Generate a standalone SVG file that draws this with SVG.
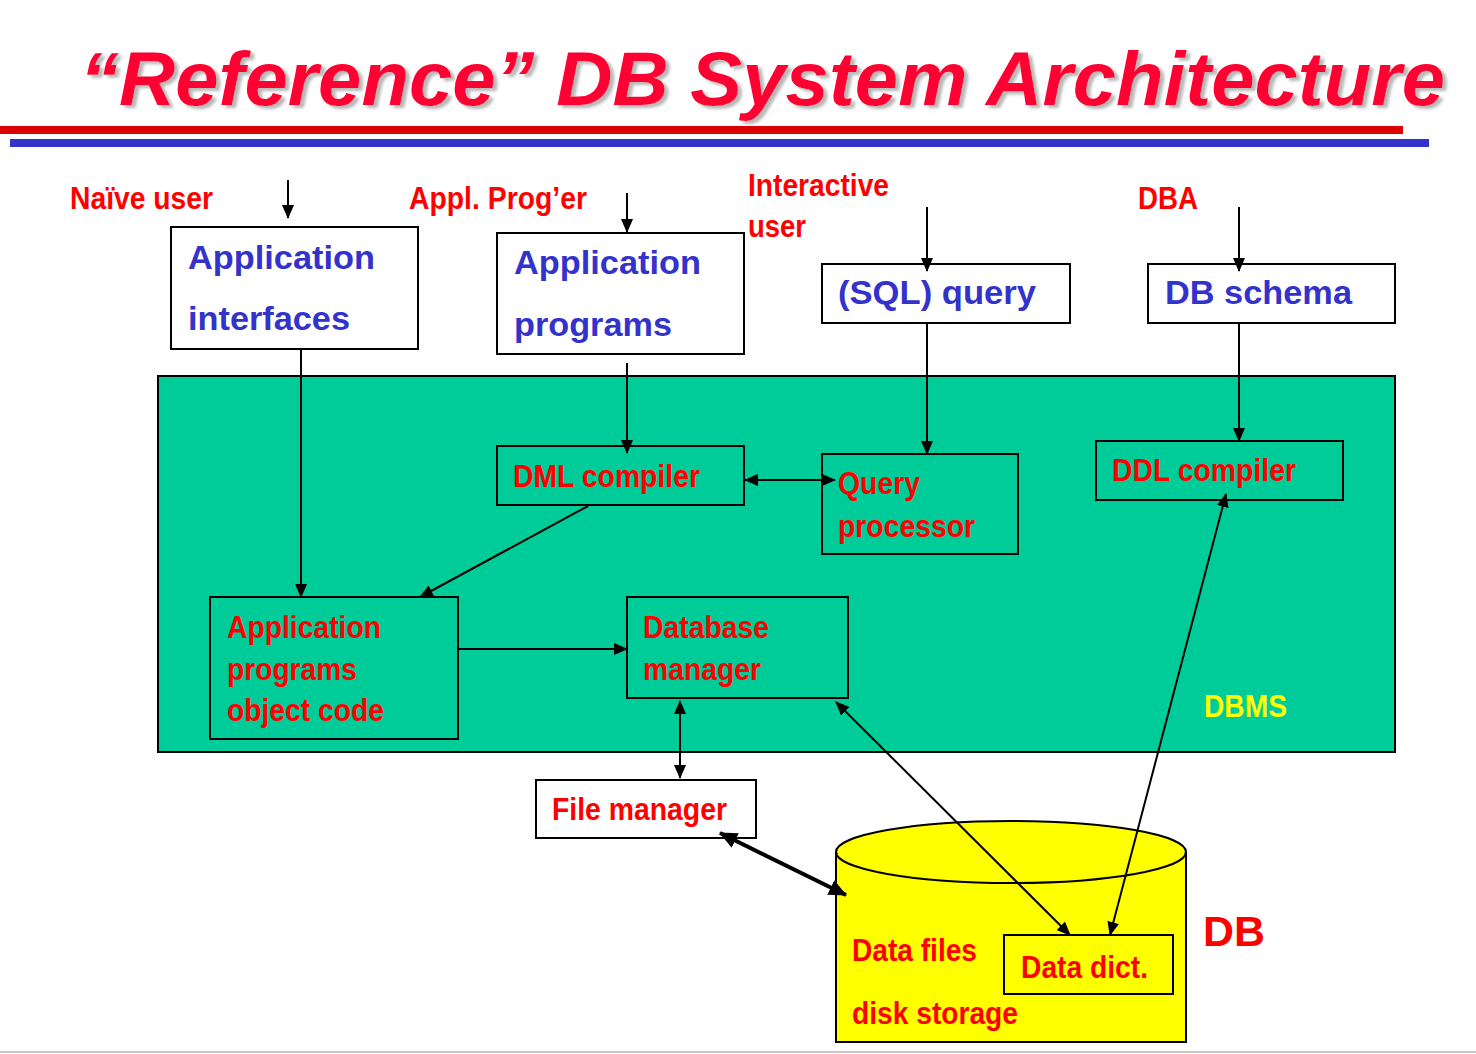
<svg xmlns="http://www.w3.org/2000/svg" width="1476" height="1054" viewBox="0 0 1476 1054">
<style>
.title{font-family:"Liberation Sans",Arial,sans-serif;font-weight:bold;font-style:italic;font-size:76px}
.nar{font-family:"Liberation Sans Narrow","Liberation Sans",Arial,sans-serif;font-weight:bold;fill:#FF0000;font-size:31px}
.blue{font-family:"Liberation Sans",Arial,sans-serif;font-weight:bold;fill:#3333CC;font-size:34px}
.wbox{fill:#FFFFFF;stroke:#000;stroke-width:2}
.gbox{fill:#00CC99;stroke:#000;stroke-width:2}
.ybox{fill:#FFFF00;stroke:#000;stroke-width:2}
.ln{stroke:#000;stroke-width:2;fill:none}
</style>
<defs>
<filter id="shadow" x="-5%" y="-20%" width="110%" height="150%">
<feDropShadow dx="4" dy="3" stdDeviation="1.5" flood-color="#999999" flood-opacity="0.7"/>
</filter>
<marker id="ah" markerUnits="userSpaceOnUse" markerWidth="14" markerHeight="12" refX="13" refY="6" orient="auto-start-reverse" viewBox="0 0 14 12">
<path d="M0,0 L14,6 L0,12 z" fill="#000"/>
</marker>
<marker id="ahb" markerUnits="userSpaceOnUse" markerWidth="18" markerHeight="16" refX="17" refY="8" orient="auto-start-reverse" viewBox="0 0 18 16">
<path d="M0,0 L18,8 L0,16 z" fill="#000"/>
</marker>
</defs>
<rect x="0" y="0" width="1476" height="1054" fill="#FFFFFF"/>
<g id="title">
<text class="title" x="80" y="105" fill="#FF0033" filter="url(#shadow)" textLength="1365" lengthAdjust="spacingAndGlyphs">“Reference” DB System Architecture</text>
<rect x="0" y="126" width="1403" height="8" fill="#DD0000"/>
<rect x="10" y="139" width="1419" height="8" fill="#3333CC"/>
</g>
<g id="dbms">
<rect class="gbox" x="158" y="376" width="1237" height="376"/>
<text class="nar" x="1204" y="717" style="fill:#FFFF00" textLength="83" lengthAdjust="spacingAndGlyphs">DBMS</text>
</g>
<g id="labels">
<text class="nar" x="70" y="209" textLength="143" lengthAdjust="spacingAndGlyphs">Naïve user</text>
<text class="nar" x="409" y="209" textLength="178" lengthAdjust="spacingAndGlyphs">Appl. Prog’er</text>
<text class="nar" x="748" y="196" textLength="141" lengthAdjust="spacingAndGlyphs">Interactive</text>
<text class="nar" x="748" y="237" textLength="58" lengthAdjust="spacingAndGlyphs">user</text>
<text class="nar" x="1138" y="209" textLength="60" lengthAdjust="spacingAndGlyphs">DBA</text>
</g>
<g id="app-interfaces">
<rect class="wbox" x="171" y="227" width="247" height="122"/>
<text class="blue" x="188" y="269" textLength="187" lengthAdjust="spacingAndGlyphs">Application</text>
<text class="blue" x="188" y="330" textLength="162" lengthAdjust="spacingAndGlyphs">interfaces</text>
</g>
<g id="app-programs">
<rect class="wbox" x="497" y="233" width="247" height="121"/>
<text class="blue" x="514" y="274" textLength="187" lengthAdjust="spacingAndGlyphs">Application</text>
<text class="blue" x="514" y="336" textLength="158" lengthAdjust="spacingAndGlyphs">programs</text>
</g>
<g id="sql-query">
<rect class="wbox" x="822" y="264" width="248" height="59"/>
<text class="blue" x="838" y="304" textLength="198" lengthAdjust="spacingAndGlyphs">(SQL) query</text>
</g>
<g id="db-schema">
<rect class="wbox" x="1148" y="264" width="247" height="59"/>
<text class="blue" x="1165" y="304" textLength="187" lengthAdjust="spacingAndGlyphs">DB schema</text>
</g>
<g id="dml-compiler">
<rect class="gbox" x="497" y="446" width="247" height="59"/>
<text class="nar" x="513" y="487" style="font-size:32px" textLength="187" lengthAdjust="spacingAndGlyphs">DML compiler</text>
</g>
<g id="query-processor">
<rect class="gbox" x="822" y="454" width="196" height="100"/>
<text class="nar" x="838" y="494" style="font-size:32px" textLength="82" lengthAdjust="spacingAndGlyphs">Query</text>
<text class="nar" x="838" y="537" style="font-size:32px" textLength="137" lengthAdjust="spacingAndGlyphs">processor</text>
</g>
<g id="ddl-compiler">
<rect class="gbox" x="1096" y="441" width="247" height="59"/>
<text class="nar" x="1112" y="481" style="font-size:32px" textLength="184" lengthAdjust="spacingAndGlyphs">DDL compiler</text>
</g>
<g id="app-object-code">
<rect class="gbox" x="210" y="597" width="248" height="142"/>
<text class="nar" x="227" y="638" style="font-size:32px" textLength="154" lengthAdjust="spacingAndGlyphs">Application</text>
<text class="nar" x="227" y="680" style="font-size:32px" textLength="130" lengthAdjust="spacingAndGlyphs">programs</text>
<text class="nar" x="227" y="721" style="font-size:32px" textLength="157" lengthAdjust="spacingAndGlyphs">object code</text>
</g>
<g id="database-manager">
<rect class="gbox" x="627" y="597" width="221" height="101"/>
<text class="nar" x="643" y="638" style="font-size:32px" textLength="126" lengthAdjust="spacingAndGlyphs">Database</text>
<text class="nar" x="643" y="680" style="font-size:32px" textLength="118" lengthAdjust="spacingAndGlyphs">manager</text>
</g>
<g id="file-manager">
<rect class="wbox" x="536" y="780" width="220" height="58"/>
<text class="nar" x="552" y="820" style="font-size:32px" textLength="175" lengthAdjust="spacingAndGlyphs">File manager</text>
</g>
<g id="db">
<path class="ybox" d="M836,852 L836,1042 L1186,1042 L1186,852"/>
<ellipse class="ybox" cx="1011" cy="852" rx="175" ry="31"/>
<rect x="837" y="854" width="348" height="187" fill="#FFFF00"/>
<path d="M836,852 A175,31 0 0 0 1186,852" class="ln"/>
<text class="nar" x="852" y="961" style="font-size:32px" textLength="125" lengthAdjust="spacingAndGlyphs">Data files</text>
<text class="nar" x="852" y="1024" style="font-size:32px" textLength="166" lengthAdjust="spacingAndGlyphs">disk storage</text>
<text x="1203" y="946" font-family="Liberation Sans, Arial, sans-serif" font-weight="bold" font-size="42" fill="#FF0000" textLength="62" lengthAdjust="spacingAndGlyphs">DB</text>
</g>
<g id="data-dict">
<rect class="ybox" x="1004" y="935" width="169" height="59"/>
<text class="nar" x="1021" y="978" style="font-size:32px" textLength="127" lengthAdjust="spacingAndGlyphs">Data dict.</text>
</g>
<g id="connectors">
<line class="ln" x1="288" y1="180" x2="288" y2="218" marker-end="url(#ah)"/>
<line class="ln" x1="627" y1="193" x2="627" y2="232" marker-end="url(#ah)"/>
<line class="ln" x1="927" y1="207" x2="927" y2="271" marker-end="url(#ah)"/>
<line class="ln" x1="1239" y1="207" x2="1239" y2="271" marker-end="url(#ah)"/>
<line class="ln" x1="301" y1="349" x2="301" y2="597" marker-end="url(#ah)"/>
<line class="ln" x1="627" y1="363" x2="627" y2="453" marker-end="url(#ah)"/>
<line class="ln" x1="927" y1="323" x2="927" y2="454" marker-end="url(#ah)"/>
<line class="ln" x1="1239" y1="323" x2="1239" y2="441" marker-end="url(#ah)"/>
<line class="ln" x1="745" y1="480" x2="835" y2="480" marker-start="url(#ah)" marker-end="url(#ah)"/>
<line class="ln" x1="588" y1="506" x2="420" y2="597" marker-end="url(#ah)"/>
<line class="ln" x1="458" y1="649" x2="627" y2="649" marker-end="url(#ah)"/>
<line class="ln" x1="680" y1="701" x2="680" y2="778" marker-start="url(#ah)" marker-end="url(#ah)"/>
<line class="ln" x1="836" y1="702" x2="1070" y2="935" marker-start="url(#ah)" marker-end="url(#ah)"/>
<line class="ln" x1="1226" y1="494" x2="1110" y2="935" marker-start="url(#ah)" marker-end="url(#ah)"/>
<line x1="720" y1="833" x2="846" y2="895" stroke="#000" stroke-width="4" marker-start="url(#ahb)" marker-end="url(#ahb)"/>
</g>
<line x1="0" y1="1052" x2="1476" y2="1052" stroke="#C8C8C8" stroke-width="2"/>
</svg>
